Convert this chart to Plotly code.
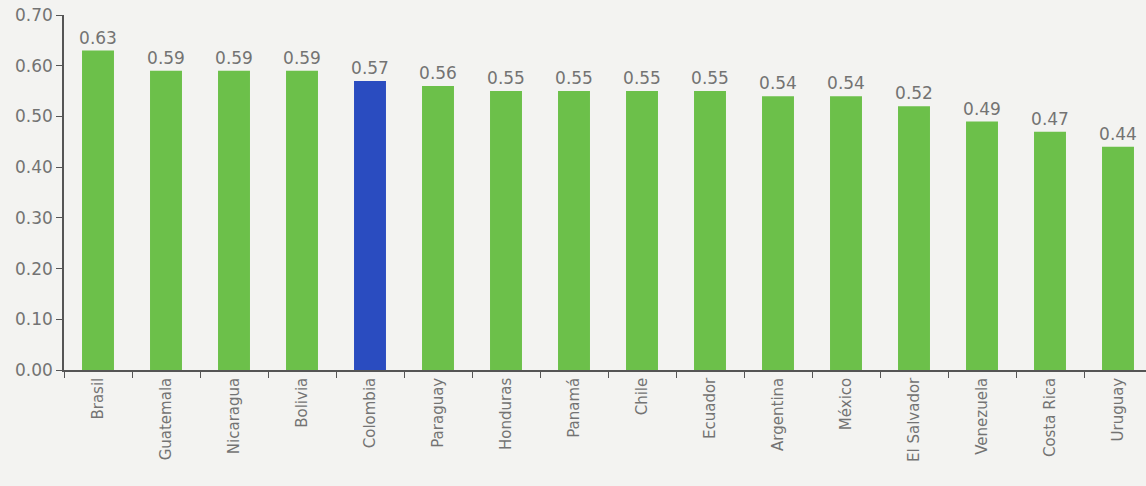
import plotly.graph_objects as go

countries = ["Brasil", "Guatemala", "Nicaragua", "Bolivia", "Colombia", "Paraguay",
             "Honduras", "Panamá", "Chile", "Ecuador", "Argentina", "México",
             "El Salvador", "Venezuela", "Costa Rica", "Uruguay"]
values = [0.63, 0.59, 0.59, 0.59, 0.57, 0.56, 0.55, 0.55, 0.55, 0.55, 0.54, 0.54,
          0.52, 0.49, 0.47, 0.44]
highlight = "Colombia"

GREEN = "#6cc04a"
BLUE = "#2a4cc0"
BG = "#f3f3f1"
colors = [BLUE if c == highlight else GREEN for c in countries]
FONT = "'DejaVu Sans', sans-serif"
GRAY = "#737373"

fig = go.Figure(go.Bar(
    x=countries, y=values, marker=dict(color=colors, line=dict(width=0)),
    text=[f"{v:.2f}" for v in values], textposition="outside",
    constraintext="none",
    textfont=dict(family=FONT, size=17, color=GRAY), cliponaxis=False,
))
fig.update_layout(
    width=1152, height=486,
    margin=dict(l=64, r=0, t=15, b=116),
    paper_bgcolor=BG, plot_bgcolor=BG,
    bargap=0.53, showlegend=False,
    font=dict(family=FONT, size=15, color=GRAY),
)
fig.update_yaxes(range=[0, 0.70], tickvals=[0, 0.1, 0.2, 0.3, 0.4, 0.5, 0.6, 0.7],
                 tickformat=".2f", showgrid=False, zeroline=False,
                 showline=True, linecolor="#555", linewidth=1.5,
                 ticks="outside", ticklen=6, tickcolor="#555",
                 tickfont=dict(size=17, color=GRAY))
fig.update_xaxes(showgrid=False, showline=True, linecolor="#555", linewidth=1.5,
                 ticks="outside", ticklen=6, tickcolor="#555", tickson="boundaries",
                 tickangle=-90, tickfont=dict(size=15, color=GRAY))
fig.write_html("out.html", config={"displayModeBar": False},
               post_script="document.body.style.margin='0';document.body.style.overflow='hidden';"
                           "document.body.style.background='%s';" % BG)
